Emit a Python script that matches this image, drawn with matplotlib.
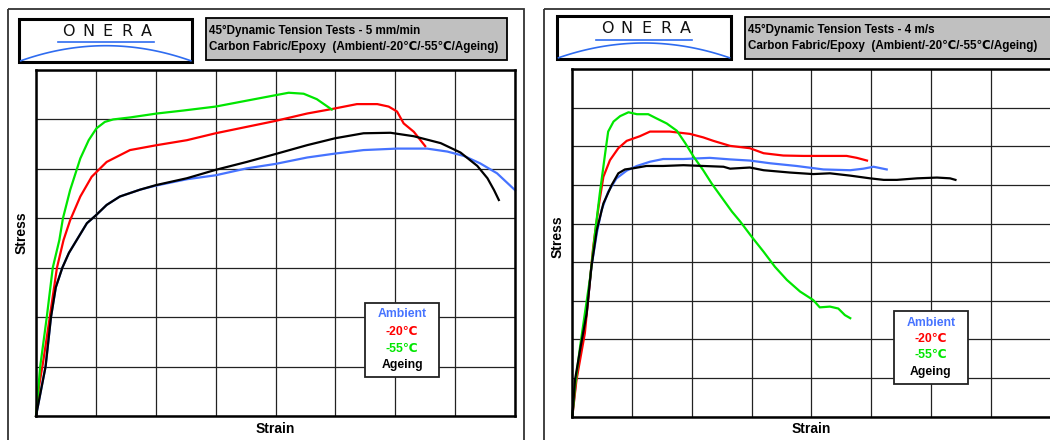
import numpy as np
import matplotlib.pyplot as plt
from matplotlib.patches import Rectangle

plt.rcParams['font.family'] = ['Liberation Sans', 'DejaVu Sans']

W, H = 1050, 440

# ---- 5 mm/min test (strain / stress in grid units) ----
slow_amb_x = [0, 0.08, 0.16, 0.25, 0.33, 0.44, 0.55, 0.68, 0.85, 1.0, 1.18, 1.40, 1.74, 2.0, 2.52, 3.0, 3.52, 4.0,
              4.53, 5.0, 5.47, 6.03, 6.53, 6.87, 7.15, 7.42, 7.70, 8.0]
slow_amb_y = [0, 0.5, 1.0, 2.0, 2.6, 3.0, 3.3, 3.56, 3.90, 4.06, 4.27, 4.44, 4.58, 4.66, 4.79, 4.87, 5.01, 5.10,
              5.23, 5.31, 5.38, 5.41, 5.41, 5.35, 5.26, 5.11, 4.91, 4.57]
slow_m20_x = [0, 0.05, 0.12, 0.23, 0.35, 0.46, 0.57, 0.74, 0.93, 1.18, 1.57, 2.02, 2.52, 3.0, 3.52, 4.0, 4.53,
              4.94, 5.36, 5.70, 5.89, 6.03, 6.14, 6.31, 6.5]
slow_m20_y = [0, 0.6, 1.1, 2.0, 3.0, 3.56, 3.96, 4.44, 4.84, 5.14, 5.38, 5.48, 5.58, 5.72, 5.85, 5.97, 6.12,
              6.21, 6.31, 6.31, 6.26, 6.16, 5.92, 5.75, 5.46]
slow_m55_x = [0, 0.07, 0.18, 0.28, 0.39, 0.45, 0.57, 0.74, 0.88, 1.01, 1.15, 1.29, 1.57, 2.02, 2.46, 3.0, 3.52,
              4.0, 4.22, 4.47, 4.69, 4.94]
slow_m55_y = [0, 1.0, 2.0, 3.0, 3.56, 4.0, 4.57, 5.21, 5.58, 5.82, 5.95, 6.0, 6.04, 6.12, 6.18, 6.26, 6.38,
              6.49, 6.54, 6.52, 6.41, 6.20]
slow_age_x = [0, 0.08, 0.16, 0.25, 0.33, 0.44, 0.55, 0.68, 0.85, 1.0, 1.18, 1.40, 1.74, 2.0, 2.52, 3.0, 3.52,
              4.0, 4.53, 5.0, 5.47, 5.92, 6.31, 6.76, 7.09, 7.37, 7.54, 7.65, 7.73]
slow_age_y = [0, 0.5, 1.0, 2.0, 2.6, 3.0, 3.3, 3.56, 3.90, 4.06, 4.27, 4.44, 4.58, 4.67, 4.81, 4.98, 5.14,
              5.30, 5.48, 5.62, 5.72, 5.73, 5.66, 5.52, 5.33, 5.06, 4.81, 4.57, 4.37]

# ---- 4 m/s test ----
fast_amb_x = [0, 0.06, 0.13, 0.24, 0.32, 0.41, 0.49, 0.60, 0.74, 0.91, 1.08, 1.30, 1.52, 1.86, 2.30, 2.64,
              2.97, 3.31, 3.75, 4.20, 4.65, 4.87, 5.04, 5.26]
fast_amb_y = [0, 0.9, 1.64, 2.67, 3.88, 4.75, 5.35, 5.82, 6.17, 6.37, 6.49, 6.60, 6.67, 6.67, 6.70, 6.66,
              6.63, 6.56, 6.49, 6.40, 6.38, 6.42, 6.47, 6.40]
fast_m20_x = [0, 0.07, 0.21, 0.35, 0.44, 0.52, 0.63, 0.77, 0.91, 1.13, 1.30, 1.63, 1.97, 2.19, 2.36, 2.64,
              2.97, 3.20, 3.53, 3.87, 4.20, 4.59, 4.76, 4.93]
fast_m20_y = [0, 0.95, 2.16, 4.40, 5.44, 6.21, 6.64, 6.95, 7.14, 7.26, 7.38, 7.38, 7.32, 7.23, 7.14, 7.01,
              6.95, 6.82, 6.76, 6.75, 6.75, 6.75, 6.70, 6.63]
fast_m55_x = [0, 0.045, 0.13, 0.21, 0.30, 0.38, 0.46, 0.55, 0.60, 0.69, 0.80, 0.94, 1.08, 1.27, 1.41, 1.58,
              1.75, 1.89, 2.03, 2.19, 2.33, 2.53, 2.67, 2.81, 3.0, 3.2, 3.39, 3.59, 3.81, 4.03, 4.14, 4.31,
              4.45, 4.56, 4.65]
fast_m55_y = [0, 0.78, 1.81, 2.67, 3.62, 4.75, 5.78, 6.82, 7.38, 7.64, 7.78, 7.88, 7.83, 7.83, 7.72, 7.59,
              7.40, 7.08, 6.73, 6.38, 6.04, 5.61, 5.31, 5.05, 4.66, 4.27, 3.88, 3.54, 3.24, 3.02, 2.83, 2.85,
              2.80, 2.63, 2.55]
fast_age_x = [0, 0.045, 0.13, 0.24, 0.32, 0.41, 0.52, 0.66, 0.77, 0.88, 1.02, 1.24, 1.52, 1.86, 2.19, 2.53,
              2.64, 2.97, 3.20, 3.64, 4.03, 4.31, 4.65, 4.98, 5.21, 5.43, 5.77, 6.10, 6.32, 6.41]
fast_age_y = [0, 0.95, 1.73, 2.67, 3.88, 4.83, 5.52, 6.0, 6.30, 6.40, 6.43, 6.49, 6.49, 6.51, 6.49, 6.47,
              6.42, 6.45, 6.38, 6.32, 6.28, 6.30, 6.24, 6.17, 6.13, 6.13, 6.17, 6.19, 6.17, 6.13]

legend_labels = ['Ambient', '-20\u2103', '-55\u2103', 'Ageing']
colors = ['#4673ff', '#ff0000', '#00e600', '#000000']

fig = plt.figure(figsize=(W / 100, H / 100), dpi=100)
bg = fig.add_axes([0, 0, 1, 1])
bg.set_xlim(0, W)
bg.set_ylim(H, 0)
bg.axis('off')


def px_axes(x0, y0, x1, y1):
    return fig.add_axes([x0 / W, 1 - y1 / H, (x1 - x0) / W, (y1 - y0) / H])


def logo(x0, y0, x1, y1):
    bg.add_patch(Rectangle((x0, y0), x1 - x0, y1 - y0, fill=False, ec='black', lw=2.2))
    xc = (x0 + x1) / 2
    for i, ch in enumerate('ONERA'):
        bg.text(xc - 37 + i * 19.5, y0 + 12.3, ch, ha='center', va='center',
                fontsize=11.5, family='DejaVu Sans', color='#111111')
    bg.plot([xc - 48, xc + 48], [y0 + 23.3, y0 + 23.3], color='#2f6cf0', lw=1.2)
    xs = np.linspace(x0 + 1.5, x1 - 1.5, 80)
    half = (x1 - x0) / 2
    peak = y0 + 26.7
    ys = peak + (y1 - 1 - peak) * ((xs - xc) / half) ** 2
    bg.plot(xs, ys, color='#2f6cf0', lw=1.2)


def title_box(x0, y0, x1, y1, line1):
    bg.add_patch(Rectangle((x0, y0), x1 - x0, y1 - y0, fc='#c0c0c0', ec='black', lw=1.3))
    bg.text(x0 + 3, y0 + 13, line1, ha='left', va='center', fontsize=8.4, fontweight='bold')
    bg.text(x0 + 3, y0 + 29, 'Carbon Fabric/Epoxy  (Ambient/-20\u2103/-55\u2103/Ageing)',
            ha='left', va='center', fontsize=8.4, fontweight='bold')


def panel(ax, ncols, nrows, series):
    ax.set_xlim(0, ncols)
    ax.set_ylim(0, nrows)
    ax.set_xticks(np.arange(0, ncols + 1))
    ax.set_yticks(np.arange(0, nrows + 1))
    ax.grid(True, color='#222222', lw=0.9)
    ax.tick_params(length=0, labelbottom=False, labelleft=False)
    for s in ax.spines.values():
        s.set_linewidth(1.8)
    for (x, y), c in zip(series, colors):
        ax.plot(x, y, color=c, lw=1.6, clip_on=False)
    ax.set_xlabel('Strain', fontsize=10, fontweight='bold', labelpad=4)


# outer frames
bg.add_patch(Rectangle((8, 9), 516, 460, fill=False, ec='#333333', lw=1.3))
bg.add_patch(Rectangle((544, 9), 560, 460, fill=False, ec='#333333', lw=1.3))

logo(19.3, 19, 192.3, 62.3)
logo(557, 16.3, 731, 59.3)
title_box(205.7, 18.3, 506.7, 60.3, '45\u00b0Dynamic Tension Tests - 5 mm/min')
title_box(745, 17.3, 1065, 59.3, '45\u00b0Dynamic Tension Tests - 4 m/s')

ax1 = px_axes(36, 70, 515, 416)
panel(ax1, 8, 7, [(slow_amb_x, slow_amb_y), (slow_m20_x, slow_m20_y),
                  (slow_m55_x, slow_m55_y), (slow_age_x, slow_age_y)])
ax2 = px_axes(572.3, 69, 1050.5, 416.7)
panel(ax2, 8, 9, [(fast_amb_x, fast_amb_y), (fast_m20_x, fast_m20_y),
                  (fast_m55_x, fast_m55_y), (fast_age_x, fast_age_y)])

# axis titles placed in pixel coords
bg.text(22, 233, 'Stress', rotation=90, ha='center', va='center', fontsize=10, fontweight='bold')
bg.text(558, 237, 'Stress', rotation=90, ha='center', va='center', fontsize=10, fontweight='bold')


def legend_box(x0, y0, x1, y1, ys):
    bg.add_patch(Rectangle((x0, y0), x1 - x0, y1 - y0, fc='white', ec='#222222', lw=1.3, zorder=5))
    for lab, c, yy in zip(legend_labels, colors, ys):
        bg.text((x0 + x1) / 2, yy, lab, color=c, ha='center', va='center',
                fontsize=8.8, fontweight='bold', zorder=6)


bg.set_zorder(3)
bg.patch.set_visible(False)
legend_box(365, 303.3, 439.3, 377.3, [314.3, 332.3, 349, 365])
legend_box(893.7, 310.7, 968.3, 384.3, [322.7, 339, 355.3, 372.3])

fig.savefig('out.png', dpi=100)
